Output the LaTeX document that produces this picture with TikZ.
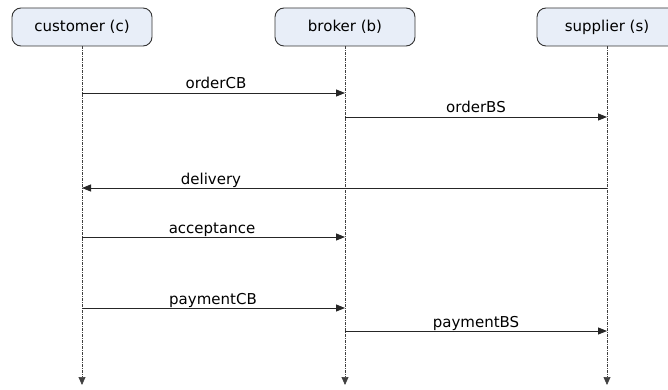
\documentclass[tikz,border=0pt]{standalone}
\usepackage{fontspec}
\setmainfont{DejaVu Sans}
\usetikzlibrary{arrows.meta}
\definecolor{boxfill}{HTML}{E8EEF8}
\definecolor{boxline}{HTML}{333333}
\tikzset{
  actor/.style={draw=boxline, line width=0.9pt, fill=boxfill, rounded corners=9pt, minimum width=140pt, minimum height=38pt, inner sep=0pt, font=\fontsize{15}{17}\selectfont},
  lifeline/.style={draw=black!75, dash pattern=on 3pt off 1pt on 1pt off 1pt, line width=0.7pt, -{Triangle[length=8pt,width=7pt]}},
  msg/.style={draw=black!85, line width=0.9pt, -{Triangle[length=9pt,width=7pt]}},
  lbl/.style={font=\fontsize{15}{17}\selectfont, inner sep=0pt, anchor=base}
}
\begin{document}
\begin{tikzpicture}[x=1pt,y=-1pt]
\useasboundingbox (0,0) rectangle (668,390);
\clip (0,0) rectangle (668,390);
\node[actor] (c) at (82,27) {customer (c)};
\node[actor] (b) at (345,27) {broker (b)};
\node[actor] (s) at (607,27) {supplier (s)};
\coordinate (ce) at (82,385);
\coordinate (be) at (345,385);
\coordinate (se) at (607,385);
\draw[lifeline] (c.south) -- (ce);
\draw[lifeline] (b.south) -- (be);
\draw[lifeline] (s.south) -- (se);
% message anchors
\coordinate (c1) at (82,93);  \coordinate (b1) at (345,93);
\coordinate (b2) at (345,117); \coordinate (s2) at (607,117);
\coordinate (s3) at (607,188); \coordinate (c3) at (82,188);
\coordinate (c4) at (82,237);  \coordinate (b4) at (345,237);
\coordinate (c5) at (82,308);  \coordinate (b5) at (345,308);
\coordinate (b6) at (345,331); \coordinate (s6) at (607,331);
\draw[msg] (c1) -- (b1);
\draw[msg] (b2) -- (s2);
\draw[msg] (s3) -- (c3);
\draw[msg] (c4) -- (b4);
\draw[msg] (c5) -- (b5);
\draw[msg] (b6) -- (s6);
\node[lbl] (l1) at (216,89) {orderCB};
\node[lbl] (l2) at (476,113) {orderBS};
\node[lbl] (l3) at (211,184) {delivery};
\node[lbl] (l4) at (212,233) {acceptance};
\node[lbl] (l5) at (213,304) {paymentCB};
\node[lbl] (l6) at (476,327) {paymentBS};
\end{tikzpicture}
\end{document}
